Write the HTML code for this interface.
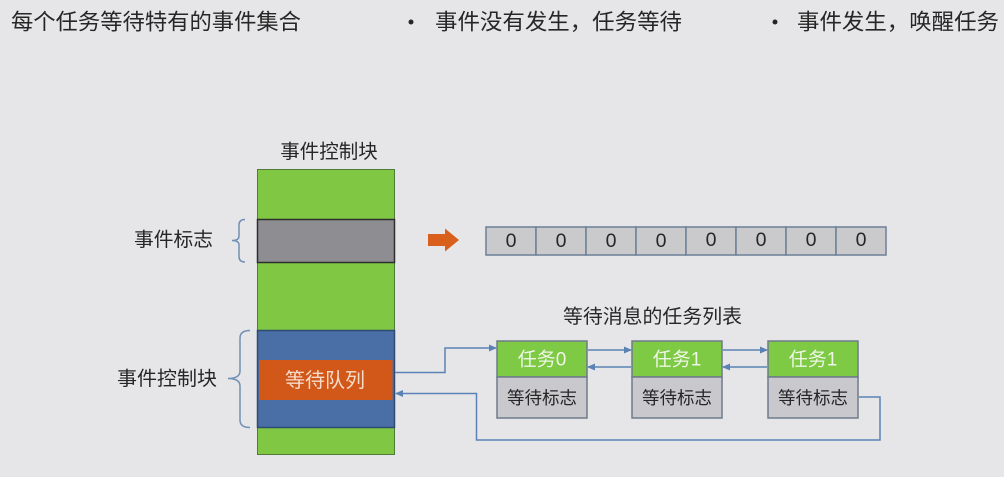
<!DOCTYPE html>
<html>
<head>
<meta charset="utf-8">
<style>
html,body{margin:0;padding:0;background:#e6e6e8;}
svg{display:block;}
text{font-family:"Liberation Sans","Noto Sans CJK SC",sans-serif;}
</style>
</head>
<body>
<svg width="1004" height="477" viewBox="0 0 1004 477" xmlns="http://www.w3.org/2000/svg">
<rect x="0" y="0" width="1004" height="477" fill="#e6e6e8"/>
<defs>
<marker id="ah" markerWidth="8" markerHeight="8" refX="7" refY="4" orient="auto" markerUnits="userSpaceOnUse">
<path d="M0,0.5 L8,4 L0,7.5 Z" fill="#5b82b5"/>
</marker>
</defs>

<!-- top text -->
<g fill="#262626" font-size="22">
<text x="11" y="22" dominant-baseline="central" textLength="290" lengthAdjust="spacingAndGlyphs">每个任务等待特有的事件集合</text>
<circle cx="411" cy="22" r="2.5" fill="#262626"/>
<text x="435" y="22" dominant-baseline="central" textLength="247" lengthAdjust="spacingAndGlyphs">事件没有发生，任务等待</text>
<circle cx="775" cy="22" r="2.5" fill="#262626"/>
<text x="797" y="22" dominant-baseline="central" textLength="202" lengthAdjust="spacingAndGlyphs">事件发生，唤醒任务</text>
</g>

<!-- block title -->
<text x="329" y="152" font-size="19.5" fill="#262626" text-anchor="middle" dominant-baseline="central">事件控制块</text>

<!-- event control block column -->
<rect x="257.5" y="169.5" width="137" height="285" fill="#80c844" stroke="#4f7a3a" stroke-width="1"/>
<rect x="257.5" y="219.5" width="137" height="43" fill="#8e8d91" stroke="#2e2e2e" stroke-width="1.5"/>
<rect x="257.5" y="330.5" width="137" height="97" fill="#4a6fa6" stroke="#2f4a73" stroke-width="1.5"/>
<rect x="259" y="360" width="133.5" height="40" fill="#d2581a"/>
<text x="325" y="381" font-size="20" fill="#f6dccb" text-anchor="middle" dominant-baseline="central">等待队列</text>

<!-- labels & braces -->
<text x="134" y="240" font-size="19.5" fill="#262626" dominant-baseline="central" textLength="79" lengthAdjust="spacingAndGlyphs">事件标志</text>
<path d="M245,219.5 Q239,219.5 239,225 L239,236 Q239,240.5 232,240.5 Q239,240.5 239,245 L239,256.5 Q239,262 245,262" fill="none" stroke="#7190b4" stroke-width="1.5"/>

<text x="117" y="379" font-size="19.5" fill="#262626" dominant-baseline="central" textLength="100" lengthAdjust="spacingAndGlyphs">事件控制块</text>
<path d="M250,330.5 Q240,330.5 240,338 L240,371 Q240,378.5 228,378.5 Q240,378.5 240,386 L240,420 Q240,427.5 250,427.5" fill="none" stroke="#7190b4" stroke-width="1.5"/>

<!-- orange arrow -->
<path d="M428,234 L445,234 L445,228.5 L459,240 L445,251.5 L445,246 L428,246 Z" fill="#d8601c"/>

<!-- bit array -->
<g stroke="#6d7f98" stroke-width="1.5" fill="#cacacd">
<rect x="486" y="227" width="50" height="28"/>
<rect x="536" y="227" width="50" height="28"/>
<rect x="586" y="227" width="50" height="28"/>
<rect x="636" y="227" width="50" height="28"/>
<rect x="686" y="227" width="50" height="28"/>
<rect x="736" y="227" width="50" height="28"/>
<rect x="786" y="227" width="50" height="28"/>
<rect x="836" y="227" width="50" height="28"/>
</g>
<g font-size="19.5" fill="#262626" text-anchor="middle" dominant-baseline="central">
<text x="511" y="241">0</text>
<text x="561" y="241">0</text>
<text x="611" y="241">0</text>
<text x="661" y="241">0</text>
<text x="711" y="240">0</text>
<text x="761" y="240">0</text>
<text x="811" y="240">0</text>
<text x="861" y="240">0</text>
</g>

<!-- list title -->
<text x="563" y="317" font-size="19.5" fill="#262626" dominant-baseline="central" textLength="179" lengthAdjust="spacingAndGlyphs">等待消息的任务列表</text>

<!-- task boxes -->
<g stroke="#6e7b8b" stroke-width="1.5">
<rect x="497" y="341" width="90" height="36" fill="#7fca44"/>
<rect x="497" y="377" width="90" height="41" fill="#c9c8cc"/>
<rect x="632" y="341" width="90" height="36" fill="#7fca44"/>
<rect x="632" y="377" width="90" height="41" fill="#c9c8cc"/>
<rect x="768" y="341" width="90" height="36" fill="#7fca44"/>
<rect x="768" y="377" width="90" height="41" fill="#c9c8cc"/>
</g>
<g font-size="19" fill="#eef6e6" text-anchor="middle" dominant-baseline="central">
<text x="542" y="360">任务0</text>
<text x="677" y="360">任务1</text>
<text x="813" y="360">任务1</text>
</g>
<g font-size="17.5" fill="#262626" text-anchor="middle" dominant-baseline="central">
<text x="542" y="398">等待标志</text>
<text x="677" y="398">等待标志</text>
<text x="813" y="398">等待标志</text>
</g>

<!-- connectors -->
<g fill="none" stroke="#5b82b5" stroke-width="1.5">
<path d="M395,372.5 L445,372.5 L445,348 L496,348" marker-end="url(#ah)"/>
<path d="M588,350 L631,350" marker-end="url(#ah)"/>
<path d="M631,367 L588,367" marker-end="url(#ah)"/>
<path d="M723,350 L767,350" marker-end="url(#ah)"/>
<path d="M767,367 L723,367" marker-end="url(#ah)"/>
<path d="M859,397 L880,397 L880,440 L476.5,440 L476.5,393.5 L396,393.5" marker-end="url(#ah)"/>
</g>
</svg>
</body>
</html>
